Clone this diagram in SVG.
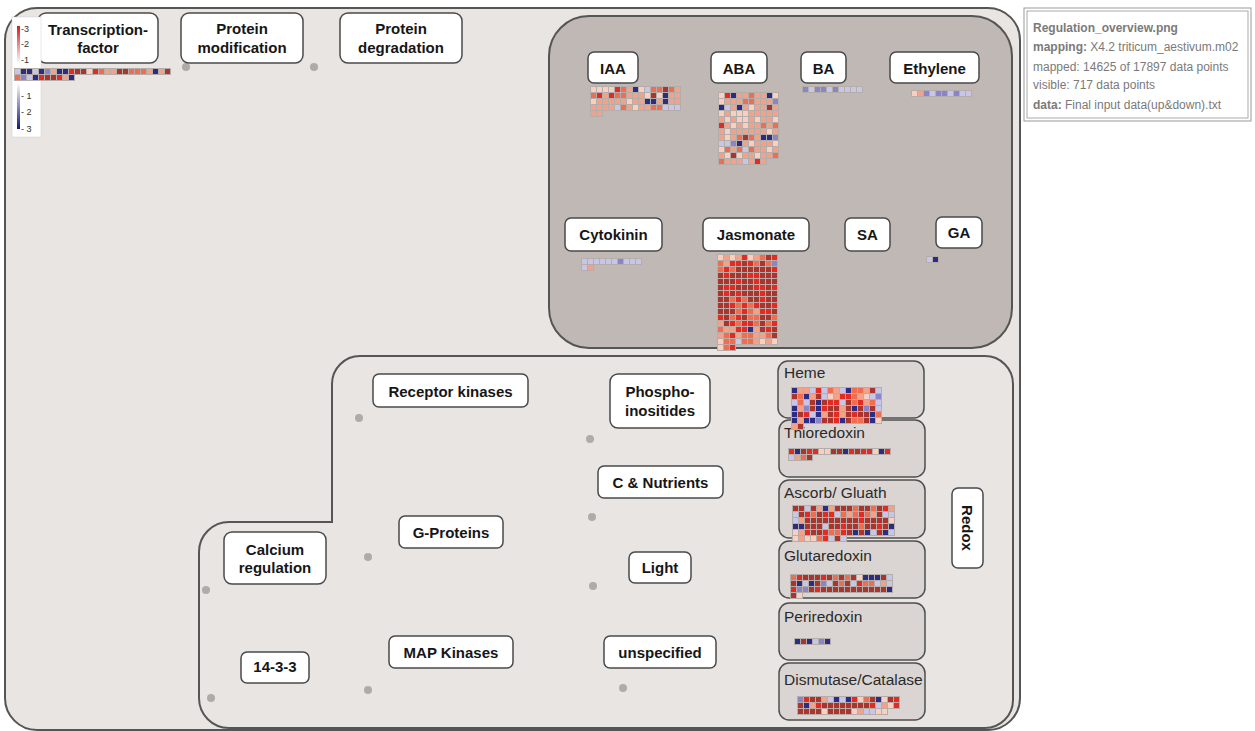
<svg xmlns="http://www.w3.org/2000/svg" width="1255" height="731" viewBox="0 0 1255 731">
<defs>
<linearGradient id="gr" x1="0" y1="0" x2="0" y2="1"><stop offset="0" stop-color="#d41c1c"/><stop offset="1" stop-color="#fff"/></linearGradient>
<linearGradient id="gb" x1="0" y1="0" x2="0" y2="1"><stop offset="0" stop-color="#fff"/><stop offset="1" stop-color="#16167a"/></linearGradient>
<style>
.pn{stroke:#555;stroke-width:2}
.node rect{fill:#fff;stroke:#4a4a4a;stroke-width:1.5}
.t{font-family:"Liberation Sans",Arial,sans-serif;font-weight:bold;font-size:15px;fill:#161616;text-anchor:middle}
.rb{fill:#dad5d2;stroke:#4f4f4f;stroke-width:1.5}
.rt{font-family:"Liberation Sans",Arial,sans-serif;font-size:15.5px;fill:#2a2a2a}
.dot{fill:#b0aaa8}
.bg{fill:#b4adaa}
.hm rect{width:5px;height:5px}
.a{fill:#a8352e}.b{fill:#e32b24}.c{fill:#ee6e52}.d{fill:#f3a28a}.e{fill:#f8cfc0}.f{fill:#c8c6e6}.g{fill:#8a85c6}.h{fill:#2c2c82}
.info{font-family:"Liberation Sans",Arial,sans-serif;font-size:12px;fill:#7a7a7a}
.lg{font-family:"Liberation Sans",Arial,sans-serif;font-size:9px;fill:#333}
</style>
</defs>
<rect width="1255" height="731" fill="#fff"/>
<g id="panels">
<rect class="pn" x="5" y="8" width="1015" height="722" rx="32" fill="#e8e5e3"/>
<rect class="pn" x="549" y="16" width="463" height="332" rx="40" fill="#bfb8b5"/>
<path class="pn" fill="#e8e5e3" d="M360 356 H985 A28 28 0 0 1 1013 384 V700 A28 28 0 0 1 985 728 H229 A30 30 0 0 1 199 698 V552 A30 30 0 0 1 229 522 H332 V384 A28 28 0 0 1 360 356 Z"/>
</g>
<g id="info">
<rect x="1024" y="8" width="227" height="113" fill="#fff" stroke="#999" stroke-width="1"/>
<rect x="1027" y="11" width="221" height="107" fill="none" stroke="#aaa" stroke-width="1"/>
<text class="info" x="1033" y="32" font-weight="bold">Regulation_overview.png</text>
<text class="info" x="1033" y="51"><tspan font-weight="bold">mapping:</tspan> X4.2 triticum_aestivum.m02</text>
<text class="info" x="1033" y="71">mapped: 14625 of 17897 data points</text>
<text class="info" x="1033" y="89">visible: 717 data points</text>
<text class="info" x="1033" y="109"><tspan font-weight="bold">data:</tspan> Final input data(up&amp;down).txt</text>
</g>
<g id="connectors"></g>
<g id="dots">
<circle class="dot" cx="186" cy="67" r="4"/><circle class="dot" cx="314" cy="67" r="4"/>
<circle class="dot" cx="359" cy="418" r="4"/><circle class="dot" cx="368" cy="557" r="4"/>
<circle class="dot" cx="206" cy="590" r="4"/><circle class="dot" cx="211" cy="698" r="4"/>
<circle class="dot" cx="368" cy="690" r="4"/><circle class="dot" cx="590" cy="439" r="4"/>
<circle class="dot" cx="592" cy="517" r="4"/><circle class="dot" cx="593" cy="586" r="4"/>
<circle class="dot" cx="623" cy="688" r="4"/>
</g>
<g id="n-tf" class="node"><rect x="38" y="13" width="120" height="50" rx="8"/><text class="t" x="98" y="35">Transcription-</text><text class="t" x="98" y="53">factor</text></g>
<g id="n-pmod" class="node"><rect x="181" y="13" width="122" height="50" rx="8"/><text class="t" x="242" y="34">Protein</text><text class="t" x="242" y="53">modification</text></g>
<g id="n-pdeg" class="node"><rect x="340" y="13" width="122" height="50" rx="8"/><text class="t" x="401" y="34">Protein</text><text class="t" x="401" y="53">degradation</text></g>
<g id="n-iaa" class="node"><rect x="588" y="52" width="50" height="31" rx="6"/><text class="t" x="613" y="74">IAA</text></g>
<g id="n-aba" class="node"><rect x="711" y="52" width="56" height="31" rx="6"/><text class="t" x="739" y="74">ABA</text></g>
<g id="n-ba" class="node"><rect x="801" y="52" width="45" height="31" rx="6"/><text class="t" x="823.5" y="74">BA</text></g>
<g id="n-eth" class="node"><rect x="890" y="52" width="89" height="31" rx="6"/><text class="t" x="934.5" y="74">Ethylene</text></g>
<g id="n-cyt" class="node"><rect x="565" y="218" width="97" height="33" rx="6"/><text class="t" x="613.5" y="240">Cytokinin</text></g>
<g id="n-jas" class="node"><rect x="703" y="218" width="106" height="33" rx="6"/><text class="t" x="756" y="240">Jasmonate</text></g>
<g id="n-sa" class="node"><rect x="845" y="218" width="45" height="33" rx="6"/><text class="t" x="867.5" y="240">SA</text></g>
<g id="n-ga" class="node"><rect x="936" y="217" width="46" height="31" rx="6"/><text class="t" x="959" y="238">GA</text></g>
<g id="n-rk" class="node"><rect x="373" y="374" width="155" height="33" rx="6"/><text class="t" x="450.5" y="397">Receptor kinases</text></g>
<g id="n-gp" class="node"><rect x="399" y="516" width="104" height="32" rx="6"/><text class="t" x="451" y="538">G-Proteins</text></g>
<g id="n-ca" class="node"><rect x="224" y="532" width="102" height="52" rx="8"/><text class="t" x="275" y="555">Calcium</text><text class="t" x="275" y="573">regulation</text></g>
<g id="n-1433" class="node"><rect x="241" y="652" width="68" height="31" rx="6"/><text class="t" x="275" y="672">14-3-3</text></g>
<g id="n-map" class="node"><rect x="389" y="636" width="124" height="32" rx="6"/><text class="t" x="451" y="658">MAP Kinases</text></g>
<g id="n-pi" class="node"><rect x="610" y="374" width="100" height="54" rx="8"/><text class="t" x="660" y="397">Phospho-</text><text class="t" x="660" y="416">inositides</text></g>
<g id="n-cn" class="node"><rect x="598" y="466" width="125" height="32" rx="6"/><text class="t" x="660.5" y="488">C &amp; Nutrients</text></g>
<g id="n-light" class="node"><rect x="629" y="552" width="62" height="31" rx="6"/><text class="t" x="660" y="573">Light</text></g>
<g id="n-unsp" class="node"><rect x="604" y="636" width="112" height="32" rx="6"/><text class="t" x="660" y="658">unspecified</text></g>
<g id="n-redox" class="node"><rect x="952" y="488" width="31" height="80" rx="6"/><text class="t" transform="translate(962,528) rotate(90)">Redox</text></g>
<g id="r-heme"><rect class="rb" x="778" y="361" width="146" height="57" rx="10"/><text class="rt" x="784" y="378">Heme</text></g>
<g id="r-thio"><rect class="rb" x="779" y="420" width="146" height="57" rx="10"/><text class="rt" x="784" y="438">Thioredoxin</text></g>
<g id="r-asc"><rect class="rb" x="779" y="480" width="146" height="58" rx="10"/><text class="rt" x="784" y="498">Ascorb/ Gluath</text></g>
<g id="r-glu"><rect class="rb" x="779" y="541" width="146" height="57" rx="10"/><text class="rt" x="784" y="561">Glutaredoxin</text></g>
<g id="r-per"><rect class="rb" x="779" y="603" width="146" height="57" rx="10"/><text class="rt" x="784" y="622">Periredoxin</text></g>
<g id="r-dis"><rect class="rb" x="779" y="663" width="146" height="57" rx="10"/><text class="rt" x="784" y="685">Dismutase/Catalase</text></g>
<g id="legend">
<rect x="12" y="17" width="29" height="120" fill="#fff" stroke="#d0d0d0" stroke-width="0.5"/>
<rect x="17" y="26" width="3" height="38" fill="url(#gr)"/>
<rect x="17" y="83" width="3" height="46" fill="url(#gb)"/>
<text class="lg" x="21" y="32">-3</text><text class="lg" x="21" y="47">-2</text><text class="lg" x="21" y="63">-1</text>
<text class="lg" x="21" y="99">- 1</text><text class="lg" x="21" y="115">- 2</text><text class="lg" x="21" y="132">- 3</text>
</g>
<g id="hm-tf"><rect class="bg" x="14" y="68" width="157" height="7"/><rect class="bg" x="14" y="74" width="61" height="7"/>
<g class="hm" transform="translate(15,69)">
<g><rect x="0" class="f"/><rect x="6" class="h"/><rect x="12" class="h"/><rect x="18" class="f"/><rect x="24" class="h"/><rect x="30" class="g"/><rect x="36" class="d"/><rect x="42" class="h"/><rect x="48" class="h"/><rect x="54" class="b"/><rect x="60" class="a"/><rect x="66" class="a"/><rect x="72" class="e"/><rect x="78" class="b"/><rect x="84" class="c"/><rect x="90" class="d"/><rect x="96" class="d"/><rect x="102" class="a"/><rect x="108" class="a"/><rect x="114" class="c"/><rect x="120" class="c"/><rect x="126" class="c"/><rect x="132" class="d"/><rect x="138" class="h"/><rect x="144" class="d"/><rect x="150" class="a"/></g>
<g transform="translate(0,6)"><rect x="0" class="c"/><rect x="6" class="g"/><rect x="12" class="f"/><rect x="18" class="h"/><rect x="24" class="b"/><rect x="30" class="a"/><rect x="36" class="a"/><rect x="42" class="b"/><rect x="48" class="d"/><rect x="54" class="h"/></g>
</g></g>
<g id="hm-iaa"><rect class="bg" x="590" y="86" width="91" height="25"/><rect class="bg" x="590" y="110" width="13" height="7"/>
<g class="hm" transform="translate(591,87)">
<g><rect x="0" class="e"/><rect x="6" class="e"/><rect x="12" class="e"/><rect x="18" class="e"/><rect x="24" class="b"/><rect x="30" class="c"/><rect x="36" class="d"/><rect x="42" class="h"/><rect x="48" class="e"/><rect x="54" class="f"/><rect x="60" class="c"/><rect x="66" class="c"/><rect x="72" class="a"/><rect x="78" class="c"/><rect x="84" class="d"/></g>
<g transform="translate(0,6)"><rect x="0" class="c"/><rect x="6" class="b"/><rect x="12" class="d"/><rect x="18" class="b"/><rect x="24" class="c"/><rect x="30" class="c"/><rect x="36" class="d"/><rect x="42" class="d"/><rect x="48" class="d"/><rect x="54" class="e"/><rect x="60" class="a"/><rect x="66" class="e"/><rect x="72" class="h"/><rect x="78" class="d"/><rect x="84" class="d"/></g>
<g transform="translate(0,12)"><rect x="0" class="e"/><rect x="6" class="d"/><rect x="12" class="d"/><rect x="18" class="d"/><rect x="24" class="d"/><rect x="30" class="d"/><rect x="36" class="e"/><rect x="42" class="d"/><rect x="48" class="d"/><rect x="54" class="h"/><rect x="60" class="h"/><rect x="66" class="d"/><rect x="72" class="h"/><rect x="78" class="d"/><rect x="84" class="d"/></g>
<g transform="translate(0,18)"><rect x="0" class="d"/><rect x="6" class="d"/><rect x="12" class="d"/><rect x="18" class="d"/><rect x="24" class="f"/><rect x="30" class="c"/><rect x="36" class="d"/><rect x="42" class="e"/><rect x="48" class="d"/><rect x="54" class="d"/><rect x="60" class="c"/><rect x="66" class="c"/><rect x="72" class="f"/><rect x="78" class="f"/><rect x="84" class="f"/></g>
<g transform="translate(0,24)"><rect x="0" class="d"/><rect x="6" class="d"/></g>
</g></g>
<g id="hm-aba"><rect class="bg" x="718" y="92" width="61" height="67"/><rect class="bg" x="718" y="158" width="49" height="7"/>
<g class="hm" transform="translate(719,93)">
<g><rect x="0" class="e"/><rect x="6" class="b"/><rect x="12" class="h"/><rect x="18" class="d"/><rect x="24" class="d"/><rect x="30" class="c"/><rect x="36" class="d"/><rect x="42" class="d"/><rect x="48" class="h"/><rect x="54" class="e"/></g>
<g transform="translate(0,6)"><rect x="0" class="e"/><rect x="6" class="d"/><rect x="12" class="d"/><rect x="18" class="d"/><rect x="24" class="c"/><rect x="30" class="c"/><rect x="36" class="d"/><rect x="42" class="d"/><rect x="48" class="d"/><rect x="54" class="g"/></g>
<g transform="translate(0,12)"><rect x="0" class="h"/><rect x="6" class="f"/><rect x="12" class="d"/><rect x="18" class="h"/><rect x="24" class="d"/><rect x="30" class="e"/><rect x="36" class="d"/><rect x="42" class="d"/><rect x="48" class="a"/><rect x="54" class="d"/></g>
<g transform="translate(0,18)"><rect x="0" class="e"/><rect x="6" class="d"/><rect x="12" class="e"/><rect x="18" class="e"/><rect x="24" class="e"/><rect x="30" class="d"/><rect x="36" class="d"/><rect x="42" class="d"/><rect x="48" class="d"/><rect x="54" class="d"/></g>
<g transform="translate(0,24)"><rect x="0" class="d"/><rect x="6" class="e"/><rect x="12" class="d"/><rect x="18" class="e"/><rect x="24" class="e"/><rect x="30" class="d"/><rect x="36" class="e"/><rect x="42" class="d"/><rect x="48" class="d"/><rect x="54" class="e"/></g>
<g transform="translate(0,30)"><rect x="0" class="b"/><rect x="6" class="d"/><rect x="12" class="e"/><rect x="18" class="d"/><rect x="24" class="e"/><rect x="30" class="d"/><rect x="36" class="d"/><rect x="42" class="c"/><rect x="48" class="d"/><rect x="54" class="c"/></g>
<g transform="translate(0,36)"><rect x="0" class="d"/><rect x="6" class="e"/><rect x="12" class="d"/><rect x="18" class="d"/><rect x="24" class="d"/><rect x="30" class="d"/><rect x="36" class="d"/><rect x="42" class="d"/><rect x="48" class="e"/><rect x="54" class="d"/></g>
<g transform="translate(0,42)"><rect x="0" class="d"/><rect x="6" class="e"/><rect x="12" class="d"/><rect x="18" class="c"/><rect x="24" class="a"/><rect x="30" class="c"/><rect x="36" class="d"/><rect x="42" class="h"/><rect x="48" class="h"/><rect x="54" class="g"/></g>
<g transform="translate(0,48)"><rect x="0" class="f"/><rect x="6" class="f"/><rect x="12" class="g"/><rect x="18" class="h"/><rect x="24" class="d"/><rect x="30" class="e"/><rect x="36" class="d"/><rect x="42" class="d"/><rect x="48" class="d"/><rect x="54" class="e"/></g>
<g transform="translate(0,54)"><rect x="0" class="e"/><rect x="6" class="c"/><rect x="12" class="d"/><rect x="18" class="c"/><rect x="24" class="f"/><rect x="30" class="c"/><rect x="36" class="d"/><rect x="42" class="d"/><rect x="48" class="e"/><rect x="54" class="d"/></g>
<g transform="translate(0,60)"><rect x="0" class="d"/><rect x="6" class="e"/><rect x="12" class="a"/><rect x="18" class="e"/><rect x="24" class="d"/><rect x="30" class="d"/><rect x="36" class="e"/><rect x="42" class="d"/><rect x="48" class="d"/><rect x="54" class="c"/></g>
<g transform="translate(0,66)"><rect x="0" class="c"/><rect x="6" class="d"/><rect x="12" class="d"/><rect x="18" class="d"/><rect x="24" class="f"/><rect x="30" class="d"/><rect x="36" class="b"/><rect x="42" class="d"/></g>
</g></g>
<g id="hm-ba"><rect class="bg" x="802" y="86" width="61" height="7"/>
<g class="hm" transform="translate(803,87)"><rect x="0" class="g"/><rect x="6" class="f"/><rect x="12" class="g"/><rect x="18" class="g"/><rect x="24" class="f"/><rect x="30" class="g"/><rect x="36" class="f"/><rect x="42" class="f"/><rect x="48" class="f"/><rect x="54" class="f"/></g></g>
<g id="hm-eth"><rect class="bg" x="911" y="90" width="61" height="7"/>
<g class="hm" transform="translate(912,91)"><rect x="0" class="e"/><rect x="6" class="d"/><rect x="12" class="g"/><rect x="18" class="f"/><rect x="24" class="g"/><rect x="30" class="g"/><rect x="36" class="f"/><rect x="42" class="g"/><rect x="48" class="f"/><rect x="54" class="f"/></g></g>
<g id="hm-cyt"><rect class="bg" x="581" y="258" width="61" height="7"/><rect class="bg" x="581" y="264" width="13" height="7"/>
<g class="hm" transform="translate(582,259)"><g><rect x="0" class="f"/><rect x="6" class="f"/><rect x="12" class="f"/><rect x="18" class="f"/><rect x="24" class="f"/><rect x="30" class="f"/><rect x="36" class="g"/><rect x="42" class="f"/><rect x="48" class="f"/><rect x="54" class="f"/></g>
<g transform="translate(0,6)"><rect x="0" class="f"/><rect x="6" class="d"/></g></g></g>
<g id="hm-ga"><rect class="bg" x="926" y="256" width="13" height="7"/>
<g class="hm" transform="translate(927,257)"><rect x="0" class="f"/><rect x="6" class="h"/></g></g>
<g id="hm-jas"><rect class="bg" x="717" y="254" width="61" height="91"/><rect class="bg" x="717" y="344" width="19" height="7"/>
<g class="hm" transform="translate(718,255)">
<g><rect x="0" class="e"/><rect x="6" class="d"/><rect x="12" class="e"/><rect x="18" class="d"/><rect x="24" class="b"/><rect x="30" class="e"/><rect x="36" class="d"/><rect x="42" class="c"/><rect x="48" class="a"/><rect x="54" class="b"/></g>
<g transform="translate(0,6)"><rect x="0" class="c"/><rect x="6" class="d"/><rect x="12" class="b"/><rect x="18" class="b"/><rect x="24" class="a"/><rect x="30" class="b"/><rect x="36" class="c"/><rect x="42" class="a"/><rect x="48" class="c"/><rect x="54" class="g"/></g>
<g transform="translate(0,12)"><rect x="0" class="c"/><rect x="6" class="b"/><rect x="12" class="c"/><rect x="18" class="a"/><rect x="24" class="a"/><rect x="30" class="a"/><rect x="36" class="a"/><rect x="42" class="a"/><rect x="48" class="a"/><rect x="54" class="b"/></g>
<g transform="translate(0,18)"><rect x="0" class="a"/><rect x="6" class="b"/><rect x="12" class="a"/><rect x="18" class="a"/><rect x="24" class="a"/><rect x="30" class="b"/><rect x="36" class="b"/><rect x="42" class="a"/><rect x="48" class="a"/><rect x="54" class="a"/></g>
<g transform="translate(0,24)"><rect x="0" class="a"/><rect x="6" class="a"/><rect x="12" class="a"/><rect x="18" class="b"/><rect x="24" class="a"/><rect x="30" class="a"/><rect x="36" class="b"/><rect x="42" class="a"/><rect x="48" class="a"/><rect x="54" class="a"/></g>
<g transform="translate(0,30)"><rect x="0" class="a"/><rect x="6" class="b"/><rect x="12" class="b"/><rect x="18" class="a"/><rect x="24" class="a"/><rect x="30" class="a"/><rect x="36" class="b"/><rect x="42" class="b"/><rect x="48" class="a"/><rect x="54" class="b"/></g>
<g transform="translate(0,36)"><rect x="0" class="a"/><rect x="6" class="b"/><rect x="12" class="a"/><rect x="18" class="b"/><rect x="24" class="a"/><rect x="30" class="a"/><rect x="36" class="a"/><rect x="42" class="b"/><rect x="48" class="a"/><rect x="54" class="a"/></g>
<g transform="translate(0,42)"><rect x="0" class="a"/><rect x="6" class="a"/><rect x="12" class="c"/><rect x="18" class="b"/><rect x="24" class="c"/><rect x="30" class="a"/><rect x="36" class="a"/><rect x="42" class="b"/><rect x="48" class="a"/><rect x="54" class="a"/></g>
<g transform="translate(0,48)"><rect x="0" class="a"/><rect x="6" class="a"/><rect x="12" class="b"/><rect x="18" class="c"/><rect x="24" class="b"/><rect x="30" class="c"/><rect x="36" class="b"/><rect x="42" class="a"/><rect x="48" class="a"/><rect x="54" class="b"/></g>
<g transform="translate(0,54)"><rect x="0" class="a"/><rect x="6" class="a"/><rect x="12" class="a"/><rect x="18" class="c"/><rect x="24" class="b"/><rect x="30" class="c"/><rect x="36" class="d"/><rect x="42" class="b"/><rect x="48" class="b"/><rect x="54" class="a"/></g>
<g transform="translate(0,60)"><rect x="0" class="b"/><rect x="6" class="a"/><rect x="12" class="c"/><rect x="18" class="b"/><rect x="24" class="a"/><rect x="30" class="c"/><rect x="36" class="c"/><rect x="42" class="a"/><rect x="48" class="a"/><rect x="54" class="c"/></g>
<g transform="translate(0,66)"><rect x="0" class="d"/><rect x="6" class="a"/><rect x="12" class="b"/><rect x="18" class="c"/><rect x="24" class="b"/><rect x="30" class="b"/><rect x="36" class="c"/><rect x="42" class="a"/><rect x="48" class="c"/><rect x="54" class="b"/></g>
<g transform="translate(0,72)"><rect x="0" class="c"/><rect x="6" class="d"/><rect x="12" class="d"/><rect x="18" class="b"/><rect x="24" class="b"/><rect x="30" class="h"/><rect x="36" class="d"/><rect x="42" class="a"/><rect x="48" class="b"/><rect x="54" class="a"/></g>
<g transform="translate(0,78)"><rect x="0" class="d"/><rect x="6" class="c"/><rect x="12" class="b"/><rect x="18" class="d"/><rect x="24" class="c"/><rect x="30" class="c"/><rect x="36" class="d"/><rect x="42" class="d"/><rect x="48" class="c"/><rect x="54" class="a"/></g>
<g transform="translate(0,84)"><rect x="0" class="e"/><rect x="6" class="c"/><rect x="12" class="c"/><rect x="18" class="f"/><rect x="24" class="c"/><rect x="30" class="c"/><rect x="36" class="d"/><rect x="42" class="e"/><rect x="48" class="d"/><rect x="54" class="e"/></g>
<g transform="translate(0,90)"><rect x="0" class="e"/><rect x="6" class="c"/><rect x="12" class="b"/></g>
</g></g>
<g id="hm-heme"><rect class="bg" x="791" y="387" width="91" height="37"/><rect class="bg" x="791" y="423" width="13" height="7"/>
<g class="hm" transform="translate(792,388)">
<g><rect x="0" class="h"/><rect x="6" class="d"/><rect x="12" class="d"/><rect x="18" class="f"/><rect x="24" class="b"/><rect x="30" class="f"/><rect x="36" class="c"/><rect x="42" class="d"/><rect x="48" class="f"/><rect x="54" class="h"/><rect x="60" class="c"/><rect x="66" class="c"/><rect x="72" class="d"/><rect x="78" class="a"/><rect x="84" class="f"/></g>
<g transform="translate(0,6)"><rect x="0" class="a"/><rect x="6" class="c"/><rect x="12" class="h"/><rect x="18" class="d"/><rect x="24" class="a"/><rect x="30" class="f"/><rect x="36" class="e"/><rect x="42" class="d"/><rect x="48" class="b"/><rect x="54" class="b"/><rect x="60" class="c"/><rect x="66" class="d"/><rect x="72" class="e"/><rect x="78" class="f"/><rect x="84" class="g"/></g>
<g transform="translate(0,12)"><rect x="0" class="f"/><rect x="6" class="c"/><rect x="12" class="f"/><rect x="18" class="a"/><rect x="24" class="h"/><rect x="30" class="a"/><rect x="36" class="b"/><rect x="42" class="b"/><rect x="48" class="f"/><rect x="54" class="a"/><rect x="60" class="c"/><rect x="66" class="b"/><rect x="72" class="d"/><rect x="78" class="c"/><rect x="84" class="f"/></g>
<g transform="translate(0,18)"><rect x="0" class="h"/><rect x="6" class="d"/><rect x="12" class="g"/><rect x="18" class="a"/><rect x="24" class="h"/><rect x="30" class="b"/><rect x="36" class="a"/><rect x="42" class="a"/><rect x="48" class="d"/><rect x="54" class="a"/><rect x="60" class="h"/><rect x="66" class="a"/><rect x="72" class="g"/><rect x="78" class="a"/><rect x="84" class="f"/></g>
<g transform="translate(0,24)"><rect x="0" class="h"/><rect x="6" class="a"/><rect x="12" class="b"/><rect x="18" class="f"/><rect x="24" class="h"/><rect x="30" class="d"/><rect x="36" class="a"/><rect x="42" class="b"/><rect x="48" class="d"/><rect x="54" class="a"/><rect x="60" class="b"/><rect x="66" class="a"/><rect x="72" class="a"/><rect x="78" class="h"/><rect x="84" class="c"/></g>
<g transform="translate(0,30)"><rect x="0" class="h"/><rect x="6" class="d"/><rect x="12" class="h"/><rect x="18" class="h"/><rect x="24" class="g"/><rect x="30" class="a"/><rect x="36" class="a"/><rect x="42" class="b"/><rect x="48" class="h"/><rect x="54" class="a"/><rect x="60" class="c"/><rect x="66" class="c"/><rect x="72" class="a"/><rect x="78" class="h"/><rect x="84" class="e"/></g>
<g transform="translate(0,36)"><rect x="0" class="d"/><rect x="6" class="a"/></g>
</g></g>
<g id="hm-thio"><rect class="bg" x="788" y="448" width="103" height="7"/><rect class="bg" x="788" y="454" width="25" height="7"/>
<g class="hm" transform="translate(789,449)">
<g><rect x="0" class="b"/><rect x="6" class="h"/><rect x="12" class="a"/><rect x="18" class="b"/><rect x="24" class="b"/><rect x="30" class="e"/><rect x="36" class="e"/><rect x="42" class="a"/><rect x="48" class="a"/><rect x="54" class="h"/><rect x="60" class="b"/><rect x="66" class="a"/><rect x="72" class="b"/><rect x="78" class="b"/><rect x="84" class="e"/><rect x="90" class="h"/><rect x="96" class="b"/></g>
<g transform="translate(0,6)"><rect x="0" class="f"/><rect x="6" class="d"/><rect x="12" class="c"/><rect x="18" class="a"/></g>
</g></g>
<g id="hm-asc"><rect class="bg" x="792" y="505" width="103" height="31"/><rect class="bg" x="792" y="535" width="55" height="7"/>
<g class="hm" transform="translate(793,506)">
<g><rect x="0" class="a"/><rect x="6" class="a"/><rect x="12" class="f"/><rect x="18" class="a"/><rect x="24" class="d"/><rect x="30" class="h"/><rect x="36" class="d"/><rect x="42" class="a"/><rect x="48" class="a"/><rect x="54" class="a"/><rect x="60" class="c"/><rect x="66" class="a"/><rect x="72" class="a"/><rect x="78" class="c"/><rect x="84" class="a"/><rect x="90" class="b"/><rect x="96" class="d"/></g>
<g transform="translate(0,6)"><rect x="0" class="f"/><rect x="6" class="a"/><rect x="12" class="b"/><rect x="18" class="c"/><rect x="24" class="a"/><rect x="30" class="b"/><rect x="36" class="b"/><rect x="42" class="f"/><rect x="48" class="c"/><rect x="54" class="d"/><rect x="60" class="c"/><rect x="66" class="b"/><rect x="72" class="c"/><rect x="78" class="d"/><rect x="84" class="a"/><rect x="90" class="f"/><rect x="96" class="f"/></g>
<g transform="translate(0,12)"><rect x="0" class="f"/><rect x="6" class="d"/><rect x="12" class="a"/><rect x="18" class="a"/><rect x="24" class="a"/><rect x="30" class="a"/><rect x="36" class="a"/><rect x="42" class="a"/><rect x="48" class="a"/><rect x="54" class="a"/><rect x="60" class="a"/><rect x="66" class="b"/><rect x="72" class="a"/><rect x="78" class="a"/><rect x="84" class="a"/><rect x="90" class="a"/><rect x="96" class="e"/></g>
<g transform="translate(0,18)"><rect x="0" class="h"/><rect x="6" class="h"/><rect x="12" class="a"/><rect x="18" class="a"/><rect x="24" class="a"/><rect x="30" class="f"/><rect x="36" class="a"/><rect x="42" class="a"/><rect x="48" class="b"/><rect x="54" class="a"/><rect x="60" class="a"/><rect x="66" class="c"/><rect x="72" class="a"/><rect x="78" class="a"/><rect x="84" class="b"/><rect x="90" class="a"/><rect x="96" class="h"/></g>
<g transform="translate(0,24)"><rect x="0" class="e"/><rect x="6" class="d"/><rect x="12" class="b"/><rect x="18" class="a"/><rect x="24" class="a"/><rect x="30" class="b"/><rect x="36" class="c"/><rect x="42" class="c"/><rect x="48" class="b"/><rect x="54" class="a"/><rect x="60" class="h"/><rect x="66" class="a"/><rect x="72" class="h"/><rect x="78" class="f"/><rect x="84" class="a"/><rect x="90" class="h"/><rect x="96" class="f"/></g>
<g transform="translate(0,30)"><rect x="0" class="e"/><rect x="6" class="d"/><rect x="12" class="e"/><rect x="18" class="e"/><rect x="24" class="c"/><rect x="30" class="b"/><rect x="36" class="f"/><rect x="42" class="a"/><rect x="48" class="f"/></g>
</g></g>
<g id="hm-glu"><rect class="bg" x="790" y="574" width="103" height="19"/><rect class="bg" x="790" y="592" width="13" height="7"/>
<g class="hm" transform="translate(791,575)">
<g><rect x="0" class="c"/><rect x="6" class="b"/><rect x="12" class="a"/><rect x="18" class="a"/><rect x="24" class="a"/><rect x="30" class="b"/><rect x="36" class="a"/><rect x="42" class="c"/><rect x="48" class="a"/><rect x="54" class="c"/><rect x="60" class="a"/><rect x="66" class="e"/><rect x="72" class="h"/><rect x="78" class="h"/><rect x="84" class="h"/><rect x="90" class="a"/><rect x="96" class="f"/></g>
<g transform="translate(0,6)"><rect x="0" class="a"/><rect x="6" class="h"/><rect x="12" class="f"/><rect x="18" class="h"/><rect x="24" class="a"/><rect x="30" class="g"/><rect x="36" class="f"/><rect x="42" class="a"/><rect x="48" class="c"/><rect x="54" class="a"/><rect x="60" class="f"/><rect x="66" class="b"/><rect x="72" class="c"/><rect x="78" class="c"/><rect x="84" class="f"/><rect x="90" class="d"/><rect x="96" class="f"/></g>
<g transform="translate(0,12)"><rect x="0" class="b"/><rect x="6" class="g"/><rect x="12" class="g"/><rect x="18" class="a"/><rect x="24" class="b"/><rect x="30" class="a"/><rect x="36" class="a"/><rect x="42" class="a"/><rect x="48" class="a"/><rect x="54" class="a"/><rect x="60" class="a"/><rect x="66" class="a"/><rect x="72" class="a"/><rect x="78" class="a"/><rect x="84" class="a"/><rect x="90" class="a"/><rect x="96" class="h"/></g>
<g transform="translate(0,18)"><rect x="0" class="a"/><rect x="6" class="e"/></g>
</g></g>
<g id="hm-per"><rect class="bg" x="794" y="638" width="37" height="7"/>
<g class="hm" transform="translate(795,639)"><rect x="0" class="h"/><rect x="6" class="a"/><rect x="12" class="h"/><rect x="18" class="f"/><rect x="24" class="g"/><rect x="30" class="h"/></g></g>
<g id="hm-dis"><rect class="bg" x="797" y="696" width="103" height="13"/><rect class="bg" x="797" y="708" width="91" height="7"/>
<g class="hm" transform="translate(798,697)">
<g><rect x="0" class="g"/><rect x="6" class="b"/><rect x="12" class="a"/><rect x="18" class="a"/><rect x="24" class="d"/><rect x="30" class="f"/><rect x="36" class="h"/><rect x="42" class="f"/><rect x="48" class="h"/><rect x="54" class="b"/><rect x="60" class="e"/><rect x="66" class="c"/><rect x="72" class="a"/><rect x="78" class="h"/><rect x="84" class="e"/><rect x="90" class="a"/><rect x="96" class="b"/></g>
<g transform="translate(0,6)"><rect x="0" class="a"/><rect x="6" class="h"/><rect x="12" class="d"/><rect x="18" class="b"/><rect x="24" class="a"/><rect x="30" class="a"/><rect x="36" class="a"/><rect x="42" class="a"/><rect x="48" class="a"/><rect x="54" class="a"/><rect x="60" class="a"/><rect x="66" class="a"/><rect x="72" class="b"/><rect x="78" class="f"/><rect x="84" class="d"/><rect x="90" class="e"/><rect x="96" class="b"/></g>
<g transform="translate(0,12)"><rect x="0" class="a"/><rect x="6" class="a"/><rect x="12" class="a"/><rect x="18" class="a"/><rect x="24" class="e"/><rect x="30" class="a"/><rect x="36" class="a"/><rect x="42" class="a"/><rect x="48" class="a"/><rect x="54" class="e"/><rect x="60" class="d"/><rect x="66" class="f"/><rect x="72" class="f"/><rect x="78" class="e"/><rect x="84" class="e"/></g>
</g></g>
</svg>
